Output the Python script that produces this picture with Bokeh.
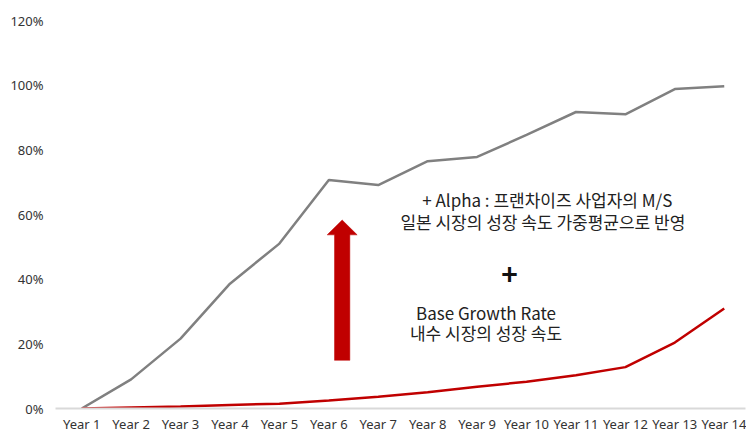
from bokeh.plotting import figure
from bokeh.models import Range1d, FixedTicker, NumeralTickFormatter, ColumnDataSource
from bokeh.core.properties import value
from bokeh.embed import file_html
from bokeh.resources import INLINE

years = ["Year %d" % i for i in range(1, 15)]
alpha_total = [0.0, 0.09, 0.216, 0.386, 0.51, 0.707, 0.691, 0.765, 0.778, 0.846, 0.917, 0.91, 0.988, 0.997]
base_growth = [0.0, 0.003, 0.006, 0.011, 0.015, 0.025, 0.036, 0.05, 0.067, 0.083, 0.103, 0.128, 0.204, 0.309]
y_ticks = [0, 0.2, 0.4, 0.6, 0.8, 1.0, 1.2]

xs = list(range(1, len(years) + 1))

p = figure(width=746, height=435, output_backend="svg", toolbar_location=None,
           x_range=Range1d(0.47, 14.43), y_range=Range1d(0, 1.2),
           min_border_left=55, min_border_right=1, min_border_top=20, min_border_bottom=26)
p.outline_line_color = None
p.grid.visible = False
p.background_fill_color = "white"
p.border_fill_color = "white"

p.line(xs, alpha_total, line_color="#808080", line_width=2.5)
p.line(xs, base_growth, line_color="#c00000", line_width=2.5)

# arrow (annotation)
cx = 6.27
sw = 0.155
hw = 0.303
tip, hb, bot = 0.583, 0.537, 0.149
p.patch([cx - sw, cx - sw, cx - hw, cx, cx + hw, cx + sw, cx + sw],
        [bot, hb, hb, tip, hb, hb, bot], fill_color="#c00000", line_color="#c00000", line_width=0.5)

font = value("Noto Sans CJK KR")
txt = ColumnDataSource(dict(
    x=[10.42, 10.33, 9.18, 9.18],
    y=[0.645, 0.578, 0.298, 0.235],
    t=["+ Alpha : 프랜차이즈 사업자의 M/S", "일본 시장의 성장 속도 가중평균으로 반영",
       "Base Growth Rate", "내수 시장의 성장 속도"],
))
p.text(x="x", y="y", text="t", source=txt, text_font=font, text_font_size="17px",
       text_color="#222222", text_align="center", text_baseline="middle")
p.text(x=[9.655], y=[0.413], text=["+"], text_font=font, text_font_size="28px",
       text_color="#111111", text_align="center", text_baseline="middle", text_font_style="bold")

p.xaxis.ticker = FixedTicker(ticks=xs)
p.xaxis.major_label_overrides = {i: y for i, y in zip(xs, years)}
p.xaxis.axis_line_color = "#d9d9d9"
p.xaxis.axis_line_width = 2
p.xaxis.major_tick_line_color = None
p.xaxis.minor_tick_line_color = None
p.xaxis.major_tick_out = 0
p.xaxis.minor_tick_out = 0
p.xaxis.major_label_text_font = "Noto Sans"
p.xaxis.major_label_text_font_size = "13px"
p.xaxis.major_label_text_color = "#333333"
p.xaxis.major_label_standoff = 6

p.yaxis.ticker = FixedTicker(ticks=y_ticks)
p.yaxis.formatter = NumeralTickFormatter(format="0%")
p.yaxis.axis_line_color = None
p.yaxis.major_tick_line_color = None
p.yaxis.minor_tick_line_color = None
p.yaxis.major_tick_out = 0
p.yaxis.minor_tick_out = 0
p.yaxis.major_label_text_font = "Noto Sans"
p.yaxis.major_label_text_font_size = "13px"
p.yaxis.major_label_text_color = "#333333"
p.yaxis.major_label_standoff = 12

open("out.html", "w").write(file_html(p, INLINE))
